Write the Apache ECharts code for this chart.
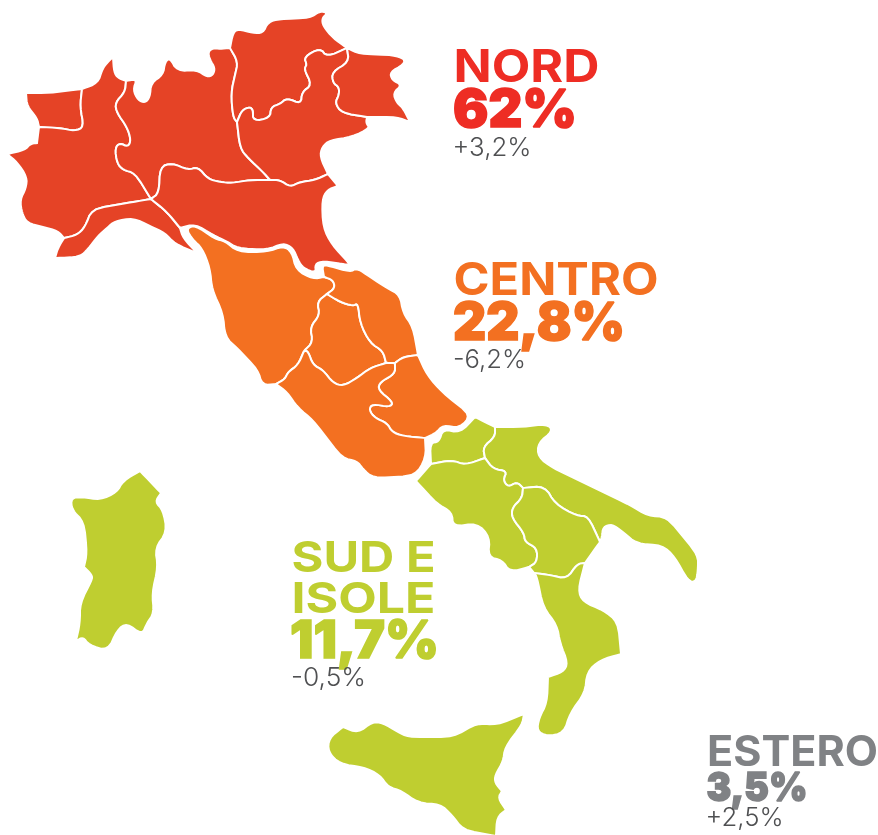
<!DOCTYPE html>
<html>
<head>
<meta charset="utf-8">
<title>Italia</title>
<style>
  html, body { margin: 0; background: #fff; }
  #map-italia { width: 878px; height: 835px; }
</style>
<script src="https://cdn.jsdelivr.net/npm/echarts@6/dist/echarts.min.js"></script>
</head>
<body>
<div id="map-italia"></div>
<script>
const areaNames = ["NORD", "CENTRO", "SUD E ISOLE", "ESTERO"];
const areaShares = ["62%", "22,8%", "11,7%", "3,5%"];
const areaDeltas = ["+3,2%", "-6,2%", "-0,5%", "+2,5%"];
const shareValues = [62, 22.8, 11.7, 3.5];
const nordRegions = ["Valle d'Aosta", "Piemonte", "Liguria", "Lombardia", "Trentino", "Veneto", "Friuli", "Emilia-Romagna"];
const centroRegions = ["Toscana", "Umbria", "Marche", "Abruzzo", "Lazio"];
const sudRegions = ["Molise", "Puglia", "Campania", "Basilicata", "Calabria", "Sicilia", "Sardegna"];

// region outlines. shared borders are kept once
// a point written twice stays a sharp corner after rounding
const aostaOuter = [[82,89],[50,93],[26,93],[26,93],[27,106],[37,118],[39,127]];
const aostaPie = [[82,89],[80,107],[84,127],[75,131],[60,128],[39,127]];
const pieNorth = [[82,89],[98,83],[102,70],[106,64],[113,57],[113,57],[114,72],[118,78],[126,81]];
const pieLomb = [[126,81],[125,92],[115,103],[117,113],[127,127],[131,140],[128,147],[120,143],[115,148],[117,163],[123,170],[135,173],[151,199]];
const pieLig = [[151,199],[133,202],[92,209],[85,227],[77,235],[64,238]];
const pieWest = [[39,127],[37,143],[37,143],[30,144],[25,150],[7,154],[7,154],[17,162],[27,177],[26,188],[20,200],[22,213],[27,223],[43,227],[58,231],[64,238]];
const ligOuter = [[64,238],[58,248],[55,258],[55,258],[80,257],[88,249],[98,236],[107,228],[115,221],[133,218],[150,226],[165,233],[175,244],[197,253],[197,253],[183,238],[180,228]];
const ligEmilia = [[151,199],[167,212],[180,228]];
const lombNorth = [[126,81],[137,79],[133,90],[138,100],[145,103],[150,97],[151,83],[163,75],[165,62],[170,58],[177,71],[197,70],[207,77],[213,75],[215,68],[210,60],[208,52],[213,48],[220,49],[230,48]];
const lombTrent = [[230,48],[238,62],[235,75],[231,93],[233,117],[237,122]];
const lombVen = [[237,122],[240,148],[248,158],[263,172],[270,180]];
const lombEmilia = [[151,199],[159,193],[160,167],[172,163],[188,170],[198,167],[208,179],[220,182],[232,183],[250,180],[270,180]];
const trentNorth = [[230,48],[233,33],[238,29],[253,33],[263,33],[268,22],[280,19],[310,18],[320,11],[328,13],[322,18],[323,26],[333,38],[347,48]];
const trentVen = [[237,122],[242,110],[250,107],[253,110],[253,121],[270,118],[271,107],[280,104],[287,98],[301,104],[302,92],[312,85],[304,69],[307,65],[304,57],[320,48],[327,57],[347,48]];
const venFriuli = [[347,48],[349,62],[332,72],[333,83],[339,87],[339,95],[335,103],[342,113],[367,117]];
const friuliOuter = [[347,48],[360,54],[393,55],[405,59],[403,65],[390,72],[392,80],[402,85],[393,93],[397,103],[403,108],[410,122],[410,122],[397,117],[367,117]];
const venCoast = [[367,117],[366,123],[370,128],[352,137],[330,140],[322,147],[320,157],[328,174]];
const venEmilia = [[328,174],[315,180],[300,182],[290,187],[280,180],[270,180]];
const emOuter = [[328,174],[338,186],[338,186],[327,190],[322,200],[323,227],[332,245],[349,263],[349,265],[323,261],[315,264],[316,273],[303,268],[298,260],[293,248],[283,243],[267,250],[237,248],[228,242],[213,235],[195,224],[180,228]];
const tosOuter = [[276,384],[262,385],[258,370],[237,348],[225,337],[223,313],[212,290],[210,268],[202,248],[193,240],[186,229],[195,225],[215,239],[225,241],[238,252],[267,252],[283,246],[292,252],[296,270],[313,279],[324,277]];
const tosMarche = [[324,277],[333,280],[335,288],[327,294]];
const tosUmbria = [[327,294],[317,302],[320,315],[310,327],[313,342],[304,351]];
const tosLazio = [[304,351],[298,365],[288,372],[285,379],[276,384]];
const umbMarche = [[327,294],[340,302],[353,306],[358,303],[360,323],[370,343],[383,351],[386,363]];
const umbLazio = [[304,351],[308,351],[313,365],[323,370],[333,383],[343,386],[357,378],[370,368],[386,363]];
const marcheLazio = [[386,363],[395,363]];
const marcheAbr = [[395,363],[403,357],[418,355]];
const marcheOuter = [[418,355],[413,327],[403,313],[400,295],[387,288],[370,277],[357,268],[350,272],[330,266],[322,265],[324,277]];
const lazAbr = [[395,363],[395,374],[380,382],[378,390],[393,402],[390,407],[372,404],[369,410],[375,418],[387,423],[392,432],[403,436],[425,438]];
const abrOuter = [[418,355],[427,375],[443,393],[471,415],[460,428],[443,425],[436,433],[425,438]];
const lazOuter = [[425,438],[426,458],[415,476],[373,478],[363,469],[357,461],[342,458],[313,420],[298,408],[287,392],[276,384]];
const molOuter = [[431,464],[430,443],[439,442],[443,429],[460,433],[475,417],[475,417],[495,427]];
const molPuglia = [[495,427],[495,437],[483,447],[485,458]];
const molCamp = [[485,458],[465,465],[452,460],[431,464]];
const pugCamp = [[485,458],[493,469],[507,471],[503,480],[508,487],[517,482],[523,488]];
const pugBas = [[523,488],[545,486],[555,504],[577,516],[588,516],[600,542]];
const pugOuter = [[495,427],[523,427],[547,424],[553,431],[538,443],[538,457],[553,468],[630,505],[648,516],[667,517],[698,555],[698,570],[696,582],[688,581],[675,557],[662,545],[637,544],[623,532],[612,524],[603,527],[602,537],[600,542]];
const campBas = [[523,488],[522,498],[512,508],[512,518],[524,533],[525,542],[537,548],[537,562],[529,567]];
const campOuter = [[431,464],[416,481],[416,481],[437,504],[452,512],[453,527],[477,523],[490,537],[488,557],[502,560],[510,572],[529,567]];
const basCal = [[534,573],[550,575],[567,579],[577,564],[585,563]];
const calOuter = [[585,563],[578,590],[583,602],[603,610],[618,622],[621,654],[621,654],[600,660],[587,672],[585,693],[570,713],[564,733],[547,736],[537,731],[539,718],[547,703],[548,677],[548,677],[563,672],[568,663],[560,643],[557,625],[543,607],[537,577],[534,573]];
const sicilia = [[343,727],[358,733],[372,722],[383,723],[398,732],[408,737],[453,737],[477,723],[497,725],[524,714],[524,714],[522,725],[505,747],[503,762],[495,775],[495,783],[502,791],[502,791],[498,798],[506,810],[506,810],[497,817],[496,836],[496,836],[463,830],[452,815],[440,804],[418,803],[402,791],[388,787],[380,775],[363,767],[340,764],[328,752],[329,738],[343,727]];
const sardegna = [[140,471],[161,493],[161,493],[155,502],[163,510],[167,532],[155,548],[158,567],[152,593],[154,613],[147,623],[142,635],[127,623],[117,630],[108,651],[89,645],[83,637],[76,641],[76,641],[80,623],[80,603],[92,580],[92,575],[84,567],[84,567],[87,553],[84,522],[72,510],[71,498],[82,497],[100,500],[117,492],[123,481],[140,471]];

const rev = (chain) => chain.slice().reverse();

// round the traced corners a little, chain ends stay where they are
function roundChain(chain) {
  let pts = chain;
  for (let pass = 0; pass < 2; pass++) {
    const out = [pts[0]];
    for (let i = 0; i < pts.length - 1; i++) {
      const a = pts[i];
      const b = pts[i + 1];
      const len = Math.hypot(b[0] - a[0], b[1] - a[1]) || 1;
      const t = Math.min(0.25, 6 / len);
      out.push([a[0] + t * (b[0] - a[0]), a[1] + t * (b[1] - a[1])]);
      out.push([b[0] - t * (b[0] - a[0]), b[1] - t * (b[1] - a[1])]);
    }
    out.push(pts[pts.length - 1]);
    pts = out;
  }
  return pts;
}
const ring = (...chains) => chains.map(roundChain).flat();

const regionRings = {
  "Valle d'Aosta": ring(aostaOuter, rev(aostaPie)),
  Piemonte: ring(pieNorth, pieLomb, pieLig, rev(pieWest), rev(aostaPie)),
  Liguria: ring(pieLig, ligOuter, rev(ligEmilia)),
  Lombardia: ring(lombNorth, lombTrent, lombVen, rev(lombEmilia), rev(pieLomb)),
  Trentino: ring(trentNorth, rev(trentVen), rev(lombTrent)),
  Veneto: ring(trentVen, venFriuli, venCoast, venEmilia, rev(lombVen)),
  Friuli: ring(friuliOuter, rev(venFriuli)),
  "Emilia-Romagna": ring(lombEmilia, rev(venEmilia), emOuter, rev(ligEmilia)),
  Toscana: ring(tosOuter, tosMarche, tosUmbria, tosLazio),
  Umbria: ring(umbMarche, rev(umbLazio), rev(tosUmbria)),
  Marche: ring(umbMarche, marcheLazio, marcheAbr, marcheOuter, tosMarche),
  Abruzzo: ring(marcheAbr, abrOuter, rev(lazAbr)),
  Lazio: ring(rev(tosLazio), umbLazio, marcheLazio, lazAbr, lazOuter),
  Molise: ring(molOuter, molPuglia, molCamp),
  Puglia: ring(pugOuter, rev(pugBas), rev(pugCamp), rev(molPuglia)),
  Campania: ring(rev(molCamp), pugCamp, campBas, rev(campOuter)),
  Basilicata: ring(campBas, basCal, [[585,563],[600,542]], rev(pugBas)),
  Calabria: ring(basCal, calOuter),
  Sicilia: ring(sicilia),
  Sardegna: ring(sardegna),
};

echarts.registerMap("italia", {
  type: "FeatureCollection",
  features: Object.keys(regionRings).map((name) => ({
    type: "Feature",
    properties: { name: name },
    geometry: {
      type: "Polygon",
      coordinates: [regionRings[name].map((p) => [p[0], -p[1]])],
    },
  })),
});

const mapColors = ["#E54326", "#F37021", "#BFCE30"];
const titleColors = ["#EE2D24", "#F37021", "#BFCE30", "#808285"];
const deltaColor = "#4F5052";

function regionData(names, idx) {
  return names.map((name) => ({
    name: name,
    value: shareValues[idx],
    itemStyle: { areaColor: mapColors[idx] },
  }));
}

const measureCtx = document.createElement("canvas").getContext("2d");

// text squeezed or stretched to the width it has in the reference, y is the cap centre
function textLine(text, weight, size, family, color, x, capMid, width, thick) {
  const font = weight + " " + size + "px " + family;
  measureCtx.font = font;
  const style = { text: text, fill: color, font: font };
  if (thick) {
    style.stroke = color;
    style.lineWidth = thick;
  }
  return {
    type: "text",
    x: x,
    y: capMid - size * 0.44,
    scaleX: width / measureCtx.measureText(text).width,
    style: style,
  };
}

const chartDom = echarts.init(document.getElementById("map-italia"));
chartDom.setOption({
  animation: false,
  series: [
    {
      type: "map",
      map: "italia",
      silent: true,
      aspectScale: 1,
      boundingCoords: [[0, 0], [878, -835]],
      left: 0,
      top: 0,
      width: 878,
      height: 835,
      label: { show: false },
      itemStyle: { borderColor: "#fff", borderWidth: 2 },
      data: regionData(nordRegions, 0)
        .concat(regionData(centroRegions, 1))
        .concat(regionData(sudRegions, 2)),
    },
  ],
  graphic: {
    elements: [
      textLine(areaNames[0], 700, 45, "Inter", titleColors[0], 453.5, 65.5, 146),
      textLine(areaShares[0], 900, 52, "Inter", titleColors[0], 453, 108, 124, 1.5),
      textLine(areaDeltas[0], 300, 26, "Inter", deltaColor, 452.5, 147, 79),

      textLine(areaNames[1], 700, 45, "Inter", titleColors[1], 453.5, 279, 205),
      textLine(areaShares[1], 900, 52, "Inter", titleColors[1], 453, 321, 172, 1.5),
      textLine(areaDeltas[1], 300, 26, "Inter", deltaColor, 453, 359, 73),

      textLine("SUD E", 700, 43, "Inter", titleColors[2], 291.5, 556, 144),
      textLine("ISOLE", 700, 43, "Inter", titleColors[2], 291.5, 597, 144),
      textLine(areaShares[2], 900, 52, "Inter", titleColors[2], 290, 639, 149, 1.5),
      textLine(areaDeltas[2], 300, 26, "Inter", deltaColor, 291, 677, 75),

      textLine(areaNames[3], 700, 42, "Inter", titleColors[3], 707, 751, 171),
      textLine(areaShares[3], 900, 40, "Inter", titleColors[3], 706.5, 786.5, 101, 1.5),
      textLine(areaDeltas[3], 300, 25, "Inter", deltaColor, 705.5, 817, 78),
    ],
  },
});
</script>
</body>
</html>
